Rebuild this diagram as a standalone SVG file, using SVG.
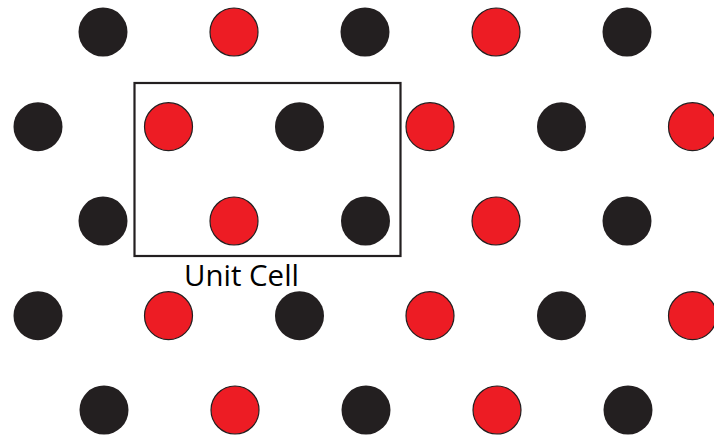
<svg xmlns="http://www.w3.org/2000/svg" width="714" height="438" viewBox="0 0 714 438">
<style>
.b{fill:#231f20}
.r{fill:#ed1c24;stroke:#231f20;stroke-width:1.2}
.cell{fill:none;stroke:#231f20;stroke-width:2.2}
.lbl{font-family:"Open Sans","Liberation Sans",sans-serif;font-size:28.5px;fill:#000}
</style>
<rect width="714" height="438" fill="#fff"/>
<g id="row1">
<circle class="b" cx="103" cy="32" r="24.5"/>
<circle class="r" cx="234" cy="32" r="24"/>
<circle class="b" cx="365" cy="32" r="24.5"/>
<circle class="r" cx="496" cy="32" r="24"/>
<circle class="b" cx="627" cy="32" r="24.5"/>
</g>
<g id="row2">
<circle class="b" cx="38" cy="126.7" r="24.5"/>
<circle class="r" cx="168.5" cy="126.7" r="24"/>
<circle class="b" cx="299.5" cy="126.7" r="24.5"/>
<circle class="r" cx="430" cy="126.7" r="24"/>
<circle class="b" cx="561.5" cy="126.7" r="24.5"/>
<circle class="r" cx="692.5" cy="126.7" r="24"/>
</g>
<g id="row3">
<circle class="b" cx="103" cy="221" r="24.5"/>
<circle class="r" cx="234" cy="221" r="24"/>
<circle class="b" cx="365.5" cy="221" r="24.5"/>
<circle class="r" cx="496" cy="221" r="24"/>
<circle class="b" cx="627" cy="221" r="24.5"/>
</g>
<g id="row4">
<circle class="b" cx="38" cy="315.7" r="24.5"/>
<circle class="r" cx="168.5" cy="315.7" r="24"/>
<circle class="b" cx="299.5" cy="315.7" r="24.5"/>
<circle class="r" cx="430" cy="315.7" r="24"/>
<circle class="b" cx="561.5" cy="315.7" r="24.5"/>
<circle class="r" cx="692.5" cy="315.7" r="24"/>
</g>
<g id="row5">
<circle class="b" cx="104" cy="410" r="24.5"/>
<circle class="r" cx="235" cy="410" r="24"/>
<circle class="b" cx="366" cy="410" r="24.5"/>
<circle class="r" cx="497" cy="410" r="24"/>
<circle class="b" cx="628" cy="410" r="24.5"/>
</g>
<g id="unit-cell">
<rect class="cell" x="134.5" y="83" width="266" height="173"/>
<text class="lbl" x="184" y="285.5" textLength="115" lengthAdjust="spacingAndGlyphs">Unit Cell</text>
</g>
</svg>
